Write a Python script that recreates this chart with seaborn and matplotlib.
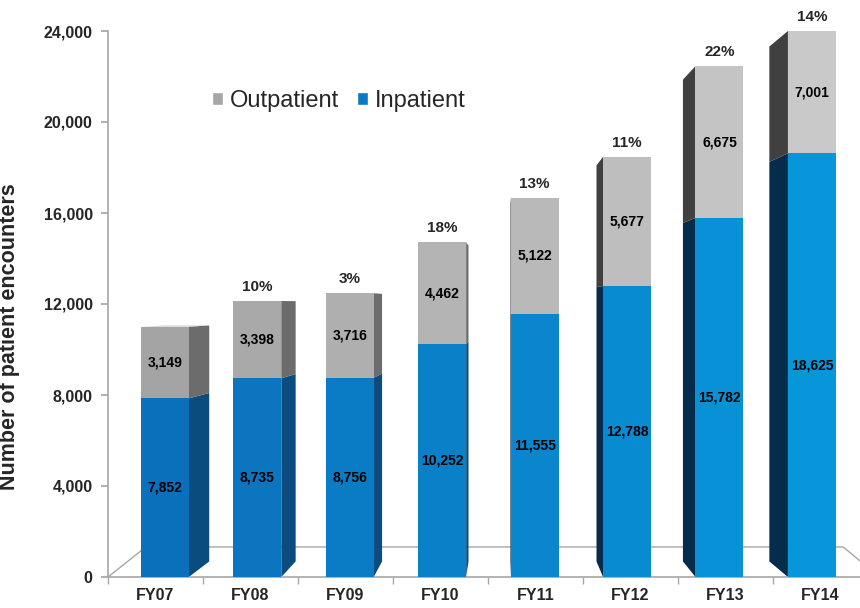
import numpy as np
import pandas as pd
import matplotlib
matplotlib.use("Agg")
import matplotlib.pyplot as plt
import seaborn as sns
from matplotlib.patches import Polygon, Patch
from matplotlib.colors import to_rgb

# data
years = ["FY07", "FY08", "FY09", "FY10", "FY11", "FY12", "FY13", "FY14"]
inpatient = [7852, 8735, 8756, 10252, 11555, 12788, 15782, 18625]
outpatient = [3149, 3398, 3716, 4462, 5122, 5677, 6675, 7001]
growth_pct = [None, 10, 3, 18, 13, 11, 22, 14]
y_ticks = [0, 4000, 8000, 12000, 16000, 20000, 24000]

# fake 3D look (one-point perspective)
YMAX = 24000
VP_X, VP_Y = 3.65, 12000
BAR_SHRINK = 0.973
BAR_W = 0.505
SIDE_FX, SIDE_FY = 0.065, 0.057
FLOOR_FX, FLOOR_FY = 0.096, 0.11


def blend(c1, c2, t):
    a, b = np.array(to_rgb(c1)), np.array(to_rgb(c2))
    return tuple(a + (b - a) * t)


n = len(years)
ts = np.linspace(0, 1, n)
blue_front = [blend("#0B70BC", "#0896DA", t) for t in ts]
gray_front = [blend("#A4A4A4", "#C9C9C9", t) for t in ts]

sns.set_theme(style="white")
plt.rcParams["font.family"] = ["Liberation Sans", "DejaVu Sans"]

fig = plt.figure(figsize=(8.6, 6.08), dpi=100)
ax = fig.add_axes([108 / 860, 31 / 608, 760 / 860, 546 / 608])

k = np.arange(n)
xpos = VP_X + BAR_SHRINK * (k - VP_X)
inp = np.array(inpatient)
out = np.array(outpatient)
total = inp + out

df = pd.DataFrame({"x": xpos, "year": years, "total": total, "inpatient": inp})
w = BAR_W / (xpos[1] - xpos[0])

sns.barplot(data=df, x="x", y="total", hue="year", palette=gray_front,
            native_scale=True, width=w, dodge=False, legend=False,
            errorbar=None, linewidth=0, saturation=1, zorder=3, ax=ax)
sns.barplot(data=df, x="x", y="inpatient", hue="year", palette=blue_front,
            native_scale=True, width=w, dodge=False, legend=False,
            errorbar=None, linewidth=0, saturation=1, zorder=4, ax=ax)


def back(x, y, fx=SIDE_FX, fy=SIDE_FY):
    return (x + fx * (VP_X - x), y + fy * (VP_Y - y))


# side faces
for i in range(n):
    xl, xr = xpos[i] - BAR_W / 2, xpos[i] + BAR_W / 2
    top = min(total[i], YMAX)
    if xr < VP_X:
        xe = xr
        side_cols = ("#0B4C7E", "#6C6C6C")
    elif xl > VP_X:
        xe = xl
        side_cols = ("#062C4B", "#404040")
    else:
        continue
    for (y0, y1), c in zip([(0, inp[i]), (inp[i], top)], side_cols):
        pts = [(xe, y0), (xe, y1), back(xe, y1), back(xe, y0)]
        ax.add_patch(Polygon(pts, closed=True, fc=c, ec="none", zorder=2))
    if top < VP_Y:
        pts = [(xl, top), (xr, top), back(xr, top), back(xl, top)]
        ax.add_patch(Polygon(pts, closed=True, fc="#D0D0D0", ec="none", zorder=2))

# floor
fl, fr = (-0.5, 0), (7.62, 0)
bl = back(*fl, fx=FLOOR_FX, fy=FLOOR_FY)
br = back(*fr, fx=FLOOR_FX, fy=FLOOR_FY)
fx_, fy_ = zip(fl, bl, br, fr)
ax.plot(fx_, fy_, color="#A6A6A6", lw=1, zorder=1, clip_on=False)

# value labels
for i in range(n):
    top = min(total[i], YMAX)
    ax.text(xpos[i], inp[i] / 2, f"{inp[i]:,}", ha="center", va="center",
            fontsize=10, fontweight="bold", color="black", zorder=6)
    ax.text(xpos[i], (inp[i] + top) / 2, f"{out[i]:,}", ha="center", va="center",
            fontsize=10, fontweight="bold", color="black", zorder=6)
    if growth_pct[i] is not None:
        ax.annotate(f"{growth_pct[i]}%", (xpos[i], top), xytext=(0, 10),
                    textcoords="offset points", ha="center", va="center",
                    fontsize=11, fontweight="bold", annotation_clip=False)

# axes
ax.set_xlim(-0.5, 7.5)
ax.set_ylim(0, YMAX)
ax.set_xticks(k)
ax.set_xticklabels(years, fontsize=11.5, fontweight="bold")
ax.set_xticks(np.arange(-0.5, 8, 1), minor=True)
ax.set_yticks(y_ticks)
ax.set_yticklabels([f"{v:,}" for v in y_ticks], fontsize=11.5, fontweight="bold")
ax.tick_params(axis="x", which="major", length=0, pad=8, bottom=True)
ax.tick_params(axis="x", which="minor", length=5, color="#A6A6A6", bottom=True)
ax.tick_params(axis="y", length=5, color="#A6A6A6", pad=6, left=True)
ax.set_xlabel("")
ax.set_ylabel("Number of patient encounters", fontsize=15.5, fontweight="bold")
ax.yaxis.set_label_coords(-0.116, 0.44)

sns.despine(ax=ax)
for s in ("left", "bottom"):
    ax.spines[s].set_color("#A6A6A6")
    ax.spines[s].set_linewidth(1.2)

handles = [Patch(fc="#A6A6A6"), Patch(fc="#0B78C4")]
fig.legend(handles, ["Outpatient", "Inpatient"], loc="center left",
           bbox_to_anchor=(212 / 860, 1 - 101 / 608), ncol=2, frameon=False,
           fontsize=17, handlelength=0.47, handleheight=0.47,
           handletextpad=0.3, columnspacing=0.75, borderpad=0, borderaxespad=0)

fig.savefig("out.png", dpi=100)
